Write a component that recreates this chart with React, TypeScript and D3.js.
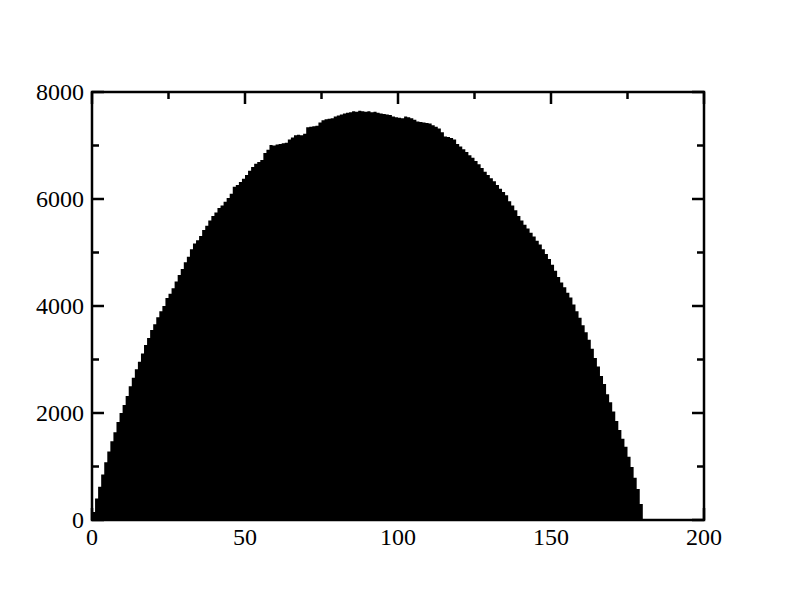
import React from "react";
import * as d3 from "d3";

// Histogram counts, one bin per unit starting at 0 (bins 0..179)
const binStart = 0;
const binWidth = 1;
const counts: number[] = [
  150, 400, 620, 850, 1080, 1280, 1470, 1640, 1830, 2000,
  2150, 2320, 2500, 2660, 2820, 2960, 3110, 3270, 3400, 3550,
  3660, 3790, 3900, 4000, 4150, 4230, 4330, 4460, 4580, 4690,
  4820, 4920, 5060, 5170, 5230, 5310, 5420, 5500, 5600, 5680,
  5750, 5830, 5880, 5950, 6020, 6100, 6230, 6260, 6320, 6380,
  6450, 6530, 6600, 6660, 6690, 6730, 6860, 6920, 7010, 7000,
  7020, 7030, 7040, 7050, 7110, 7150, 7190, 7200, 7190, 7220,
  7340, 7350, 7360, 7370, 7430, 7470, 7490, 7500, 7510, 7540,
  7560, 7580, 7600, 7610, 7620, 7640, 7630, 7650, 7640, 7630,
  7640, 7620, 7630, 7610, 7600, 7590, 7580, 7570, 7540, 7530,
  7520, 7510, 7540, 7530, 7510, 7480, 7450, 7440, 7430, 7420,
  7410, 7380, 7350, 7320, 7250, 7170, 7160, 7140, 7110, 7030,
  6980, 6930, 6880, 6820, 6770, 6710, 6650, 6580, 6510, 6450,
  6390, 6330, 6260, 6190, 6130, 6070, 5960, 5880, 5790, 5680,
  5600, 5520, 5450, 5370, 5300, 5220, 5150, 5060, 4970, 4880,
  4770, 4660, 4540, 4440, 4350, 4250, 4160, 4030, 3900, 3780,
  3640, 3510, 3370, 3200, 3030, 2870, 2690, 2540, 2350, 2200,
  2030, 1850, 1680, 1520, 1370, 1180, 990, 790, 580, 300,
];

const xDomain: [number, number] = [0, 200];
const yDomain: [number, number] = [0, 8000];
const xMajorTicks = [0, 50, 100, 150, 200];
const xMinorTicks = [25, 75, 125, 175];
const yMajorTicks = [0, 2000, 4000, 6000, 8000];
const yMinorTicks = [1000, 3000, 5000, 7000];

const W = 792;
const H = 612;
const L = 92, R = 704, T = 92, B = 520;

export default function App() {
  const x = d3.scaleLinear().domain(xDomain).range([L, R]);
  const y = d3.scaleLinear().domain(yDomain).range([B, T]);

  const pts = counts.map((v, i) => ({ x: binStart + i * binWidth, v }));
  pts.push({ x: binStart + counts.length * binWidth, v: counts[counts.length - 1] });

  const area = d3
    .area<{ x: number; v: number }>()
    .x((d) => x(d.x))
    .y0(y(0))
    .y1((d) => y(d.v))
    .curve(d3.curveStepAfter);

  const font = "'Liberation Serif', 'Times New Roman', serif";
  const majorLen = 12;
  const minorLen = 7;
  const sw = 2.5;

  return (
    <svg
      width={W}
      height={H}
      style={{ position: "absolute", left: 0, top: 0, background: "#fff" }}
    >
      <rect x={0} y={0} width={W} height={H} fill="#fff" />
      <path d={area(pts) || ""} fill="#000" stroke="none" />
      <g stroke="#000" strokeWidth={sw} fill="none">
        <rect x={L} y={T} width={R - L} height={B - T} />
        {xMajorTicks.map((t) => (
          <g key={"xM" + t}>
            <line x1={x(t)} x2={x(t)} y1={B} y2={B - majorLen} />
            <line x1={x(t)} x2={x(t)} y1={T} y2={T + majorLen} />
          </g>
        ))}
        {xMinorTicks.map((t) => (
          <g key={"xm" + t}>
            <line x1={x(t)} x2={x(t)} y1={B} y2={B - minorLen} />
            <line x1={x(t)} x2={x(t)} y1={T} y2={T + minorLen} />
          </g>
        ))}
        {yMajorTicks.map((t) => (
          <g key={"yM" + t}>
            <line x1={L} x2={L + majorLen} y1={y(t)} y2={y(t)} />
            <line x1={R} x2={R - majorLen} y1={y(t)} y2={y(t)} />
          </g>
        ))}
        {yMinorTicks.map((t) => (
          <g key={"ym" + t}>
            <line x1={L} x2={L + minorLen} y1={y(t)} y2={y(t)} />
            <line x1={R} x2={R - minorLen} y1={y(t)} y2={y(t)} />
          </g>
        ))}
      </g>
      <g fontFamily={font} fontSize={24} fill="#000">
        {xMajorTicks.map((t) => (
          <text key={"xl" + t} x={x(t)} y={545} textAnchor="middle">
            {String(t)}
          </text>
        ))}
        {yMajorTicks.map((t) => (
          <text key={"yl" + t} x={84} y={y(t) + 8} textAnchor="end">
            {String(t)}
          </text>
        ))}
      </g>
    </svg>
  );
}
